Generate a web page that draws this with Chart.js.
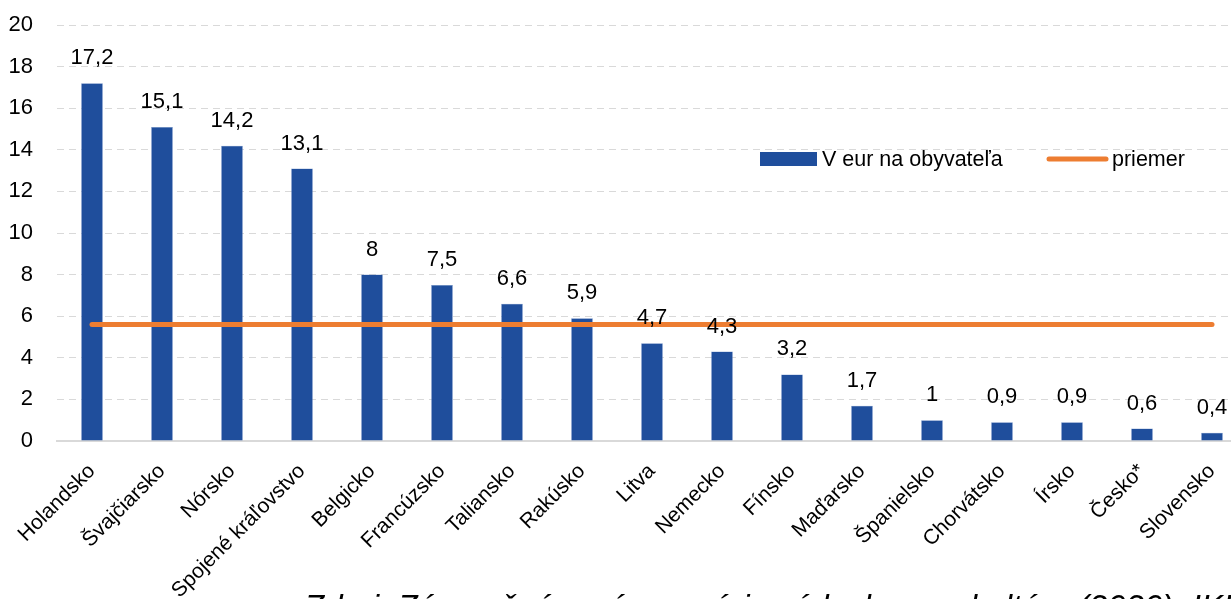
<!DOCTYPE html>
<html>
<head>
<meta charset="utf-8">
<script src="https://cdn.jsdelivr.net/npm/chart.js@4/dist/chart.umd.min.js"></script>
<style>
  html, body { margin: 0; padding: 0; background: #fff; overflow: hidden; }
  #wrap { position: relative; width: 1231px; height: 599px; overflow: hidden; }
  #chart { position: absolute; left: 0; top: 0; }
  #source {
    position: absolute; left: 304px; top: 590px; white-space: nowrap;
    font: italic 33px/1 "Liberation Sans", Arial, sans-serif; color: #000;
  }
</style>
</head>
<body>
<div id="wrap">
  <canvas id="chart" width="1250" height="599"></canvas>
  <div id="source">Zdroj: Záverečná správa revízie výdavkov na kultúru (2020), IKP</div>
</div>
<script>
const countries = ['Holandsko', 'Švajčiarsko', 'Nórsko', 'Spojené kráľovstvo', 'Belgicko', 'Francúzsko',
  'Taliansko', 'Rakúsko', 'Litva', 'Nemecko', 'Fínsko', 'Maďarsko', 'Španielsko', 'Chorvátsko',
  'Írsko', 'Česko*', 'Slovensko'];
const perCapita = [17.2, 15.1, 14.2, 13.1, 8, 7.5, 6.6, 5.9, 4.7, 4.3, 3.2, 1.7, 1, 0.9, 0.9, 0.6, 0.4];
const average = [5.6, 5.6, 5.6, 5.6, 5.6, 5.6, 5.6, 5.6, 5.6, 5.6, 5.6, 5.6, 5.6, 5.6, 5.6, 5.6, 5.6];
const yTicks = [0, 2, 4, 6, 8, 10, 12, 14, 16, 18, 20];

const FONT = '"Liberation Sans", Arial, sans-serif';
const BLUE = '#1F4E9C';
const ORANGE = '#ED7D31';

// value labels above the bars, with a comma as decimal separator
const barLabels = {
  id: 'barLabels',
  afterDatasetsDraw(chart) {
    const ctx = chart.ctx;
    const meta = chart.getDatasetMeta(1);
    ctx.save();
    ctx.font = '22px ' + FONT;
    ctx.fillStyle = '#000';
    ctx.textAlign = 'center';
    ctx.textBaseline = 'alphabetic';
    meta.data.forEach((bar, i) => {
      ctx.fillText(String(perCapita[i]).replace('.', ','), bar.x, bar.y - 19);
    });
    ctx.restore();
  }
};

// legend drawn inside the plot area
const innerLegend = {
  id: 'innerLegend',
  afterDraw(chart) {
    const ctx = chart.ctx;
    const ds = chart.data.datasets;
    const y = 159;
    ctx.save();
    ctx.font = '21.5px ' + FONT;
    ctx.textBaseline = 'middle';
    ctx.fillStyle = ds[1].backgroundColor;
    ctx.fillRect(760, y - 7, 57, 14);
    ctx.fillStyle = '#000';
    ctx.fillText(ds[1].label, 822, y + 1);
    ctx.strokeStyle = ds[0].borderColor;
    ctx.lineWidth = 5;
    ctx.lineCap = 'round';
    ctx.beginPath();
    ctx.moveTo(1049, y);
    ctx.lineTo(1106, y);
    ctx.stroke();
    ctx.fillText(ds[0].label, 1112, y + 1);
    ctx.restore();
  }
};

new Chart(document.getElementById('chart'), {
  data: {
    labels: countries,
    datasets: [{
      type: 'line',
      label: 'priemer',
      data: average,
      borderColor: ORANGE,
      borderWidth: 5,
      borderCapStyle: 'round',
      pointRadius: 0,
      order: 0
    }, {
      type: 'bar',
      label: 'V eur na obyvateľa',
      data: perCapita,
      backgroundColor: BLUE,
      borderColor: '#6F8FC6',
      borderWidth: 0.5,
      barPercentage: 0.31,
      categoryPercentage: 1,
      order: 1
    }]
  },
  options: {
    responsive: false,
    animation: false,
    layout: {
      padding: { top: 25, right: 3, left: 0, bottom: 0 }
    },
    plugins: {
      legend: { display: false },
      tooltip: { enabled: false }
    },
    scales: {
      x: {
        offset: true,
        afterFit: (scale) => { scale.height = 158; },
        border: { display: true, color: '#D9D9D9', width: 2 },
        grid: { display: false },
        ticks: {
          color: '#000',
          font: { family: FONT, size: 21 },
          maxRotation: 45,
          minRotation: 45,
          autoSkip: false,
          padding: 10
        }
      },
      y: {
        min: 0,
        max: 20,
        afterFit: (scale) => {
          scale.width = 57;
          scale.paddingTop = 0;
          scale.paddingBottom = 0;
        },
        afterBuildTicks: (scale) => { scale.ticks = yTicks.map(v => ({ value: v })); },
        border: { display: false, dash: [7, 5] },
        grid: { color: '#D9D9D9', lineWidth: 1, drawTicks: false },
        ticks: {
          color: '#000',
          font: { family: FONT, size: 22 },
          padding: 24
        }
      }
    }
  },
  plugins: [barLabels, innerLegend]
});
</script>
</body>
</html>
